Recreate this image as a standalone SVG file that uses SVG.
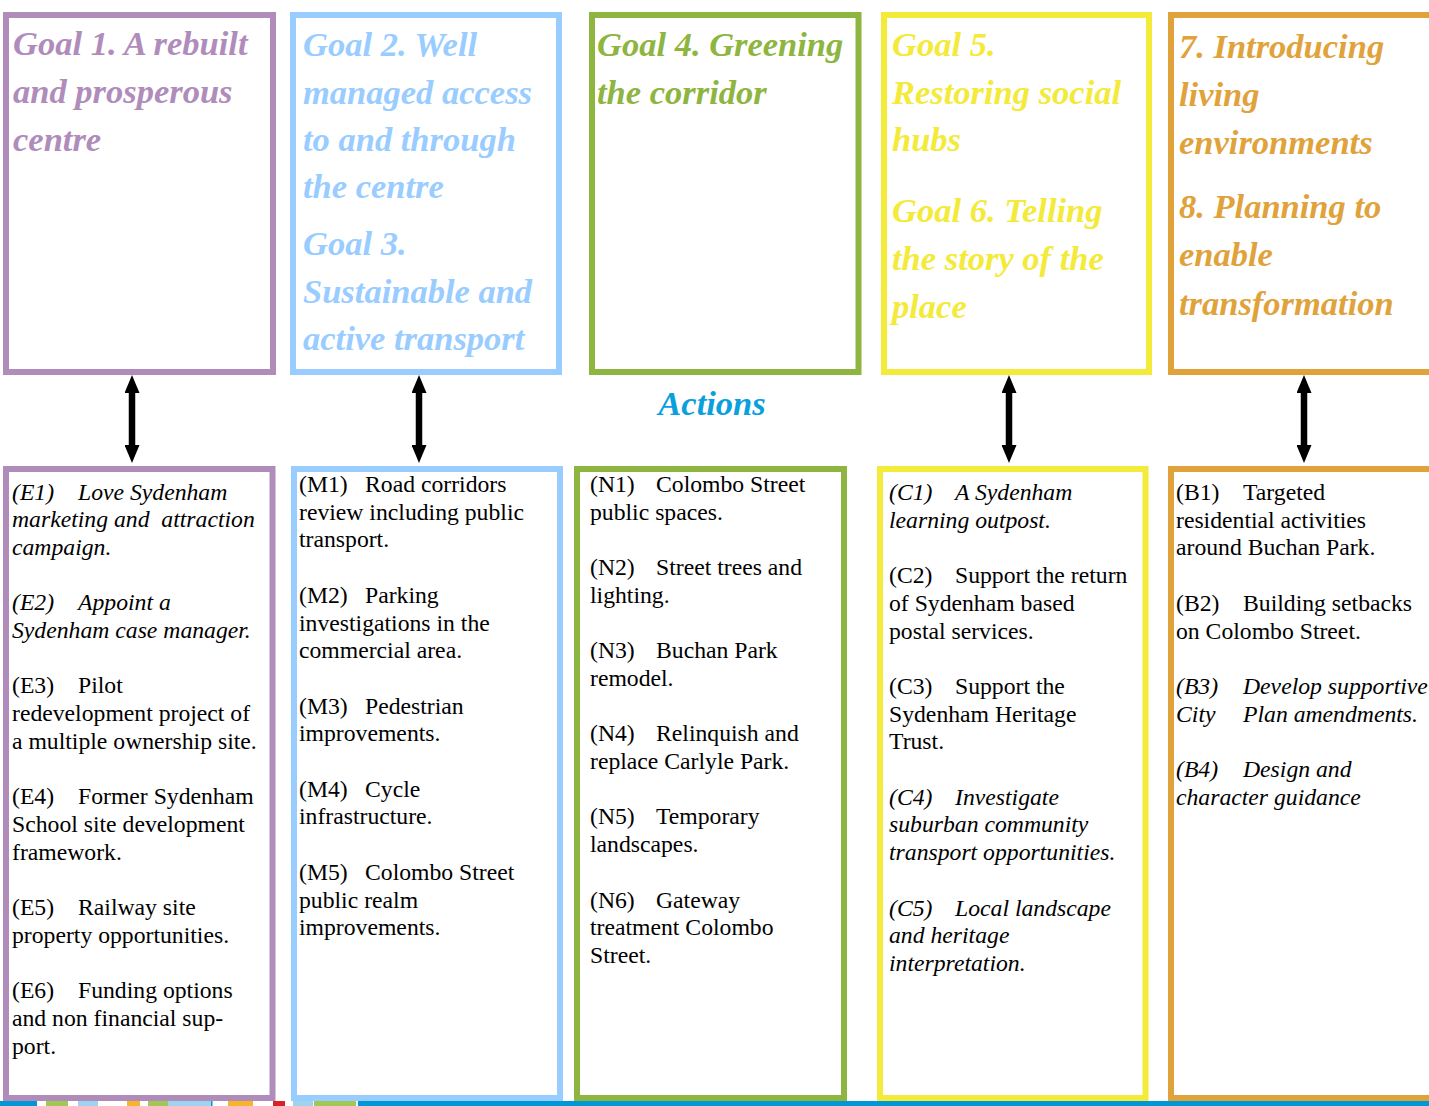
<svg xmlns="http://www.w3.org/2000/svg" width="1429" height="1106" viewBox="0 0 1429 1106">
<style>
.box{fill:none;stroke-width:6}
.t{font-family:"Liberation Serif","Times New Roman",serif;font-weight:bold;font-style:italic;font-size:34.5px}
.b{font-family:"Liberation Serif","Times New Roman",serif;font-size:23.7px;fill:#000}
.i{font-style:italic}
.pu{stroke:#b08cbb}.bl{stroke:#99ccff}.gr{stroke:#8db540}.ye{stroke:#f3ea3a}.or{stroke:#e0a23b}
.fpu{fill:#b08cbb}.fbl{fill:#99ccff}.fgr{fill:#8db540}.fye{fill:#f3ea3a}.for{fill:#e0a23b}
.arr{stroke:#000;stroke-width:6.5;marker-start:url(#ah);marker-end:url(#ah)}
</style>
<defs>
<marker id="ah" markerUnits="userSpaceOnUse" markerWidth="18" markerHeight="15" refX="8" refY="7.5" orient="auto-start-reverse">
<path d="M0,0 L18,7.5 L0,15 z" fill="#000"/>
</marker>
</defs>
<rect width="1429" height="1106" fill="#fff"/>

<g id="goal1">
<rect class="box pu" x="6" y="15" width="267" height="357"/>
<text class="t fpu" x="13" y="54.5">Goal 1. A rebuilt</text>
<text class="t fpu" x="13" y="102.5">and prosperous</text>
<text class="t fpu" x="13" y="150.5">centre</text>
</g>
<g id="goal2-3">
<rect class="box bl" x="293" y="15" width="266" height="357"/>
<text class="t fbl" x="303" y="56">Goal 2. Well</text>
<text class="t fbl" x="303" y="104">managed access</text>
<text class="t fbl" x="303" y="151">to and through</text>
<text class="t fbl" x="303" y="198">the centre</text>
<text class="t fbl" x="303" y="255">Goal 3.</text>
<text class="t fbl" x="303" y="303">Sustainable and</text>
<text class="t fbl" x="303" y="350">active transport</text>
</g>
<g id="goal4">
<rect class="box gr" x="592" y="15" width="266.5" height="357"/>
<text class="t fgr" x="597" y="56">Goal 4. Greening</text>
<text class="t fgr" x="597" y="104">the corridor</text>
</g>
<g id="goal5-6">
<rect class="box ye" x="884" y="15" width="265" height="357"/>
<text class="t fye" x="892" y="56">Goal 5.</text>
<text class="t fye" x="892" y="104">Restoring social</text>
<text class="t fye" x="892" y="151">hubs</text>
<text class="t fye" x="892" y="222">Goal 6. Telling</text>
<text class="t fye" x="892" y="270">the story of the</text>
<text class="t fye" x="892" y="318">place</text>
</g>
<g id="goal7-8">
<rect class="box or" x="1171" y="15" width="270" height="357"/>
<text class="t for" x="1179" y="58">7. Introducing</text>
<text class="t for" x="1179" y="106">living</text>
<text class="t for" x="1179" y="153.5">environments</text>
<text class="t for" x="1179" y="218">8. Planning to</text>
<text class="t for" x="1179" y="266">enable</text>
<text class="t for" x="1179" y="315">transformation</text>
</g>

<g id="actions-label">
<text class="t" x="712" y="414.5" text-anchor="middle" fill="#0aa0dc">Actions</text>
</g>

<g id="actions-E">
<rect class="box pu" x="6" y="469" width="266.5" height="629"/>
<text class="b i" x="12" y="499.5">(E1)<tspan x="78">Love Sydenham</tspan></text>
<text class="b i" x="12" y="527.2" xml:space="preserve">marketing and  attraction</text>
<text class="b i" x="12" y="554.9">campaign.</text>
<text class="b i" x="12" y="610.3">(E2)<tspan x="78">Appoint a</tspan></text>
<text class="b i" x="12" y="638">Sydenham case manager.</text>
<text class="b" x="12" y="693.4">(E3)<tspan x="78">Pilot</tspan></text>
<text class="b" x="12" y="721.1">redevelopment project of</text>
<text class="b" x="12" y="748.8">a multiple ownership site.</text>
<text class="b" x="12" y="804.2">(E4)<tspan x="78">Former Sydenham</tspan></text>
<text class="b" x="12" y="831.9">School site development</text>
<text class="b" x="12" y="859.6">framework.</text>
<text class="b" x="12" y="915">(E5)<tspan x="78">Railway site</tspan></text>
<text class="b" x="12" y="942.7">property opportunities.</text>
<text class="b" x="12" y="998.1">(E6)<tspan x="78">Funding options</tspan></text>
<text class="b" x="12" y="1025.8">and non financial sup-</text>
<text class="b" x="12" y="1053.5">port.</text>
</g>

<g id="actions-M">
<rect class="box bl" x="294" y="469" width="266" height="629"/>
<text class="b" x="299" y="492">(M1)<tspan x="365">Road corridors</tspan></text>
<text class="b" x="299" y="519.7">review including public</text>
<text class="b" x="299" y="547.4">transport.</text>
<text class="b" x="299" y="602.8">(M2)<tspan x="365">Parking</tspan></text>
<text class="b" x="299" y="630.5">investigations in the</text>
<text class="b" x="299" y="658.2">commercial area.</text>
<text class="b" x="299" y="713.6">(M3)<tspan x="365">Pedestrian</tspan></text>
<text class="b" x="299" y="741.3">improvements.</text>
<text class="b" x="299" y="796.7">(M4)<tspan x="365">Cycle</tspan></text>
<text class="b" x="299" y="824.4">infrastructure.</text>
<text class="b" x="299" y="879.8">(M5)<tspan x="365">Colombo Street</tspan></text>
<text class="b" x="299" y="907.5">public realm</text>
<text class="b" x="299" y="935.2">improvements.</text>
</g>

<g id="actions-N">
<rect class="box gr" x="577" y="469" width="267" height="629"/>
<text class="b" x="590" y="492">(N1)<tspan x="656">Colombo Street</tspan></text>
<text class="b" x="590" y="519.7">public spaces.</text>
<text class="b" x="590" y="575.1">(N2)<tspan x="656">Street trees and</tspan></text>
<text class="b" x="590" y="602.8">lighting.</text>
<text class="b" x="590" y="658.2">(N3)<tspan x="656">Buchan Park</tspan></text>
<text class="b" x="590" y="685.9">remodel.</text>
<text class="b" x="590" y="741.3">(N4)<tspan x="656">Relinquish and</tspan></text>
<text class="b" x="590" y="769">replace Carlyle Park.</text>
<text class="b" x="590" y="824.4">(N5)<tspan x="656">Temporary</tspan></text>
<text class="b" x="590" y="852.1">landscapes.</text>
<text class="b" x="590" y="907.5">(N6)<tspan x="656">Gateway</tspan></text>
<text class="b" x="590" y="935.2">treatment Colombo</text>
<text class="b" x="590" y="962.9">Street.</text>
</g>

<g id="actions-C">
<rect class="box ye" x="880" y="469" width="265.5" height="629"/>
<text class="b i" x="889" y="500">(C1)<tspan x="955">A Sydenham</tspan></text>
<text class="b i" x="889" y="527.7">learning outpost.</text>
<text class="b" x="889" y="583.1">(C2)<tspan x="955">Support the return</tspan></text>
<text class="b" x="889" y="610.8">of Sydenham based</text>
<text class="b" x="889" y="638.5">postal services.</text>
<text class="b" x="889" y="693.9">(C3)<tspan x="955">Support the</tspan></text>
<text class="b" x="889" y="721.6">Sydenham Heritage</text>
<text class="b" x="889" y="749.3">Trust.</text>
<text class="b i" x="889" y="804.7">(C4)<tspan x="955">Investigate</tspan></text>
<text class="b i" x="889" y="832.4">suburban community</text>
<text class="b i" x="889" y="860.1">transport opportunities.</text>
<text class="b i" x="889" y="915.5">(C5)<tspan x="955">Local landscape</tspan></text>
<text class="b i" x="889" y="943.2">and heritage</text>
<text class="b i" x="889" y="970.9">interpretation.</text>
</g>

<g id="actions-B">
<rect class="box or" x="1171" y="469" width="270" height="629"/>
<text class="b" x="1176" y="500">(B1)<tspan x="1243">Targeted</tspan></text>
<text class="b" x="1176" y="527.7">residential activities</text>
<text class="b" x="1176" y="555.4">around Buchan Park.</text>
<text class="b" x="1176" y="610.8">(B2)<tspan x="1243">Building setbacks</tspan></text>
<text class="b" x="1176" y="638.5">on Colombo Street.</text>
<text class="b i" x="1176" y="693.9">(B3)<tspan x="1243">Develop supportive</tspan></text>
<text class="b i" x="1176" y="721.6">City<tspan x="1243">Plan amendments.</tspan></text>
<text class="b i" x="1176" y="777">(B4)<tspan x="1243">Design and</tspan></text>
<text class="b i" x="1176" y="804.7">character guidance</text>
</g>

<g id="connectors">
<line class="arr" x1="132" y1="385" x2="132" y2="453"/>
<line class="arr" x1="419" y1="385" x2="419" y2="453"/>
<line class="arr" x1="1009" y1="385" x2="1009" y2="453"/>
<line class="arr" x1="1304" y1="385" x2="1304" y2="453"/>
</g>

<g id="footer-strip">
<rect x="0" y="1101" width="1429" height="5" fill="#fff"/>
<rect x="0" y="1101" width="37" height="5" fill="#0097d6"/>
<rect x="46" y="1101" width="22" height="5" fill="#a3c754"/>
<rect x="78" y="1101" width="20" height="5" fill="#9ed4ee"/>
<rect x="127" y="1101" width="13" height="5" fill="#f8b52b"/>
<rect x="148" y="1101" width="20" height="5" fill="#a3c754"/>
<rect x="168" y="1101" width="44" height="5" fill="#9ed4ee"/>
<rect x="211" y="1101" width="1.5" height="5" fill="#0097d6"/>
<rect x="228" y="1101" width="25" height="5" fill="#f8b52b"/>
<rect x="273" y="1101" width="12" height="5" fill="#d8222a"/>
<rect x="293" y="1101" width="20" height="5" fill="#9ed4ee"/>
<rect x="314" y="1101" width="42" height="5" fill="#a3c754"/>
<rect x="358" y="1101" width="1071" height="5" fill="#0097d6"/>
</g>
</svg>
